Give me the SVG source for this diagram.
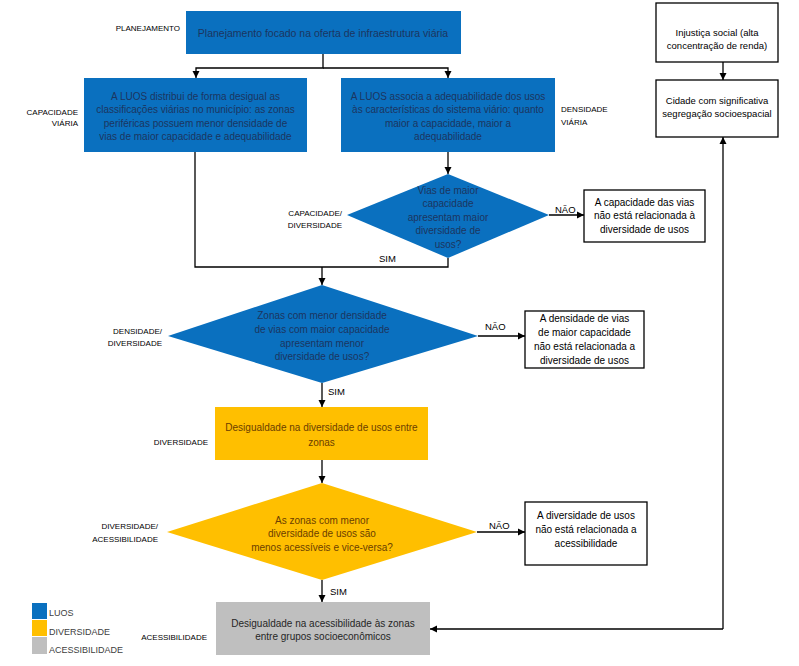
<svg xmlns="http://www.w3.org/2000/svg" width="799" height="666" viewBox="0 0 799 666">
<defs>
<style>
text{font-family:"Liberation Sans",Arial,sans-serif;}
.blue{fill:#0A70BF;}
.yel{fill:#FFBF00;}
.gray{fill:#BFBFBF;}
.wbox{fill:#FFFFFF;stroke:#000;stroke-width:1.3;}
.tb{font-size:10px;fill:#1C3560;text-anchor:middle;}
.ty{font-size:10px;fill:#6B3E00;text-anchor:middle;}
.tg{font-size:10px;fill:#262626;text-anchor:middle;}
.tw{font-size:10px;fill:#000;text-anchor:middle;}
.lab{font-size:8px;fill:#000;}
.yn{font-size:9.5px;fill:#000;}
.leg{font-size:9px;fill:#404040;}
.con{fill:none;stroke:#000;stroke-width:1.3;}
</style>
<marker id="ah" markerWidth="8" markerHeight="8" refX="7" refY="4" orient="auto" markerUnits="userSpaceOnUse">
<path d="M0,0.5 L7,4 L0,7.5 Z" fill="#000"/>
</marker>
</defs>
<rect width="799" height="666" fill="#FFFFFF"/>

<g id="connectors">
<path class="con" d="M323,54 V68 H196 V78" marker-end="url(#ah)"/>
<path class="con" d="M323,68 H448 V78" marker-end="url(#ah)"/>
<path class="con" d="M448,152 V174" marker-end="url(#ah)"/>
<path class="con" d="M195,152 V267 H448 V258"/>
<path class="con" d="M322,267 V285" marker-end="url(#ah)"/>
<path class="con" d="M549,215 H584" marker-end="url(#ah)"/>
<path class="con" d="M478,336 H525" marker-end="url(#ah)"/>
<path class="con" d="M322,383 V407" marker-end="url(#ah)"/>
<path class="con" d="M322,460 V483" marker-end="url(#ah)"/>
<path class="con" d="M477,532 H525" marker-end="url(#ah)"/>
<path class="con" d="M322,580 V602" marker-end="url(#ah)"/>
<path class="con" d="M723,62 V80" marker-end="url(#ah)"/>
<path class="con" d="M723,629 V137" marker-end="url(#ah)"/>
<path class="con" d="M723,629 H430" marker-end="url(#ah)"/>
<text class="yn" x="555" y="213">NÃO</text>
<text class="yn" x="379" y="262">SIM</text>
<text class="yn" x="485" y="330">NÃO</text>
<text class="yn" x="328" y="395">SIM</text>
<text class="yn" x="489" y="529">NÃO</text>
<text class="yn" x="330" y="595">SIM</text>
</g>

<g id="planejamento">
<rect class="blue" x="186" y="11" width="275" height="43"/>
<text class="tb" x="323" y="37" style="font-size:10.5px">Planejamento focado na oferta de infraestrutura viária</text>
<text class="lab" x="180" y="31" text-anchor="end">PLANEJAMENTO</text>
</g>

<g id="luos-distribui">
<rect class="blue" x="84" y="78" width="223" height="74"/>
<text class="tb" x="195.5" y="99.5">A LUOS distribui de forma desigual as</text>
<text class="tb" x="195.5" y="113">classificações viárias no município: as zonas</text>
<text class="tb" x="195.5" y="126.5">periféricas possuem menor densidade de</text>
<text class="tb" x="195.5" y="140">vias de maior capacidade e adequabilidade</text>
<text class="lab" x="78" y="115" text-anchor="end">CAPACIDADE</text>
<text class="lab" x="78" y="126" text-anchor="end">VIÁRIA</text>
</g>

<g id="luos-associa">
<rect class="blue" x="341" y="78" width="214" height="74"/>
<text class="tb" x="448" y="99.5">A LUOS associa a adequabilidade dos usos</text>
<text class="tb" x="448" y="113">às características do sistema viário: quanto</text>
<text class="tb" x="448" y="126.5">maior a capacidade, maior a</text>
<text class="tb" x="448" y="140">adequabilidade</text>
<text class="lab" x="561" y="112">DENSIDADE</text>
<text class="lab" x="561" y="125">VIÁRIA</text>
</g>

<g id="decisao-capacidade">
<polygon class="blue" points="448,174 549,215 448,258 347,215"/>
<text class="tb" x="448" y="193.5">Vias de maior</text>
<text class="tb" x="448" y="207">capacidade</text>
<text class="tb" x="448" y="220.5">apresentam maior</text>
<text class="tb" x="448" y="234">diversidade de</text>
<text class="tb" x="448" y="247.5">usos?</text>
<text class="lab" x="342" y="216" text-anchor="end">CAPACIDADE/</text>
<text class="lab" x="342" y="228" text-anchor="end">DIVERSIDADE</text>
</g>

<g id="nao-capacidade">
<rect class="wbox" x="584" y="190" width="121" height="52"/>
<text class="tw" x="644.5" y="205.5">A capacidade das vias</text>
<text class="tw" x="644.5" y="219">não está relacionada à</text>
<text class="tw" x="644.5" y="232.5">diversidade de usos</text>
</g>

<g id="decisao-densidade">
<polygon class="blue" points="322,285 478,336 322,383 168,336"/>
<text class="tb" x="322" y="318.5">Zonas com menor densidade</text>
<text class="tb" x="322" y="332.5">de vias com maior capacidade</text>
<text class="tb" x="322" y="346.5">apresentam menor</text>
<text class="tb" x="322" y="360">diversidade de usos?</text>
<text class="lab" x="162" y="334" text-anchor="end">DENSIDADE/</text>
<text class="lab" x="162" y="346" text-anchor="end">DIVERSIDADE</text>
</g>

<g id="nao-densidade">
<rect class="wbox" x="525" y="311" width="119" height="57"/>
<text class="tw" x="584.5" y="322">A densidade de vias</text>
<text class="tw" x="584.5" y="336">de maior capacidade</text>
<text class="tw" x="584.5" y="350">não está relacionada a</text>
<text class="tw" x="584.5" y="364">diversidade de usos</text>
</g>

<g id="desigualdade-diversidade">
<rect class="yel" x="215" y="407" width="213" height="53"/>
<text class="ty" x="321.5" y="431">Desigualdade na diversidade de usos entre</text>
<text class="ty" x="321.5" y="446">zonas</text>
<text class="lab" x="208" y="445" text-anchor="end">DIVERSIDADE</text>
</g>

<g id="decisao-acessibilidade">
<polygon class="yel" points="322,483 477,532 322,580 167,532"/>
<text class="ty" x="322" y="523.5">As zonas com menor</text>
<text class="ty" x="322" y="537">diversidade de usos são</text>
<text class="ty" x="322" y="550.5">menos acessíveis e vice-versa?</text>
<text class="lab" x="158" y="529" text-anchor="end">DIVERSIDADE/</text>
<text class="lab" x="158" y="542" text-anchor="end">ACESSIBILIDADE</text>
</g>

<g id="nao-acessibilidade">
<rect class="wbox" x="525" y="502" width="122" height="63"/>
<text class="tw" x="586" y="518.5">A diversidade de usos</text>
<text class="tw" x="586" y="532.5">não está relacionada a</text>
<text class="tw" x="586" y="546.5">acessibilidade</text>
</g>

<g id="desigualdade-acessibilidade">
<rect class="gray" x="216" y="602" width="214" height="53"/>
<text class="tg" x="323" y="626.5">Desigualdade na acessibilidade às zonas</text>
<text class="tg" x="323" y="640">entre grupos socioeconômicos</text>
<text class="lab" x="207" y="640" text-anchor="end">ACESSIBILIDADE</text>
</g>

<g id="injustica">
<rect class="wbox" x="656" y="3" width="122" height="59"/>
<text class="tw" x="717" y="35.5" style="font-size:9.5px">Injustiça social (alta</text>
<text class="tw" x="717" y="48.5" style="font-size:9.5px">concentração de renda)</text>
</g>

<g id="segregacao">
<rect class="wbox" x="656" y="80" width="122" height="57"/>
<text class="tw" x="717" y="103.5" style="font-size:9.5px">Cidade com significativa</text>
<text class="tw" x="717" y="116.5" style="font-size:9.5px">segregação socioespacial</text>
</g>

<g id="legenda">
<rect class="blue" x="32" y="603" width="15" height="16"/>
<rect class="yel" x="32" y="620" width="15" height="16"/>
<rect class="gray" x="32" y="637" width="15" height="17"/>
<text class="leg" x="49" y="616">LUOS</text>
<text class="leg" x="49" y="635">DIVERSIDADE</text>
<text class="leg" x="49" y="653">ACESSIBILIDADE</text>
</g>
</svg>
